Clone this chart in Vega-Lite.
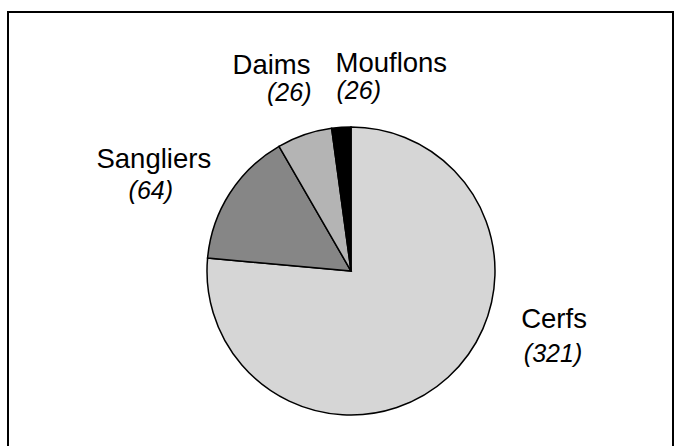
{
  "$schema": "https://vega.github.io/schema/vega-lite/v6.json",
  "width": 666,
  "height": 434,
  "autosize": {"type": "none"},
  "padding": {"left": 8, "top": 12, "right": 0, "bottom": 0},
  "background": "white",
  "config": {"view": {"stroke": null}},
  "data": {
    "values": [
      {"animal": "Cerfs", "slice": 321, "label": "(321)", "order": 1},
      {"animal": "Sangliers", "slice": 64, "label": "(64)", "order": 2},
      {"animal": "Daims", "slice": 26, "label": "(26)", "order": 3},
      {"animal": "Mouflons", "slice": 9, "label": "(26)", "order": 4}
    ]
  },
  "layer": [
    {
      "data": {"values": [{"frame": 1}]},
      "mark": {"type": "rect", "fill": null, "stroke": "black", "strokeWidth": 2},
      "encoding": {
        "x": {"value": 0},
        "x2": {"value": {"expr": "width - 1"}},
        "y": {"value": 0},
        "y2": {"value": {"expr": "height + 6"}}
      }
    },
    {
      "mark": {"type": "arc", "outerRadius": 144, "stroke": "black", "strokeWidth": 1.5, "x": 343, "y": 259},
      "encoding": {
        "theta": {"field": "slice", "type": "quantitative", "stack": true},
        "order": {"field": "order", "type": "quantitative"},
        "color": {
          "field": "animal",
          "type": "nominal",
          "scale": {"domain": ["Cerfs", "Sangliers", "Daims", "Mouflons"], "range": ["#d6d6d6", "#868686", "#b4b4b4", "#000000"]},
          "legend": null
        }
      }
    },
    {
      "mark": {
        "type": "text", "radius": 215, "x": 343, "y": 259,
        "font": "Liberation Sans", "fontSize": 27.5, "color": "black", "baseline": "alphabetic",
        "align": {"expr": "datum.animal === 'Daims' ? 'right' : datum.animal === 'Mouflons' ? 'left' : 'center'"},
        "dx": {"expr": "datum.animal === 'Cerfs' ? 58 : datum.animal === 'Sangliers' ? -16 : datum.animal === 'Daims' ? 29 : -1"},
        "dy": {"expr": "datum.animal === 'Cerfs' ? -102 : datum.animal === 'Sangliers' ? 13 : datum.animal === 'Daims' ? 6 : 16"}
      },
      "encoding": {
        "theta": {"field": "slice", "type": "quantitative", "stack": true},
        "order": {"field": "order", "type": "quantitative"},
        "text": {"field": "animal", "type": "nominal"}
      }
    },
    {
      "mark": {
        "type": "text", "radius": 215, "x": 343, "y": 259,
        "font": "Liberation Sans", "fontSize": 25, "fontStyle": "italic", "color": "black", "baseline": "alphabetic",
        "align": {"expr": "datum.animal === 'Daims' ? 'right' : datum.animal === 'Mouflons' ? 'left' : 'center'"},
        "dx": {"expr": "datum.animal === 'Cerfs' ? 57 : datum.animal === 'Sangliers' ? -19 : datum.animal === 'Daims' ? 30 : 0"},
        "dy": {"expr": "datum.animal === 'Cerfs' ? -68 : datum.animal === 'Sangliers' ? 44 : datum.animal === 'Daims' ? 33 : 43"}
      },
      "encoding": {
        "theta": {"field": "slice", "type": "quantitative", "stack": true},
        "order": {"field": "order", "type": "quantitative"},
        "text": {"field": "label", "type": "nominal"}
      }
    }
  ]
}
